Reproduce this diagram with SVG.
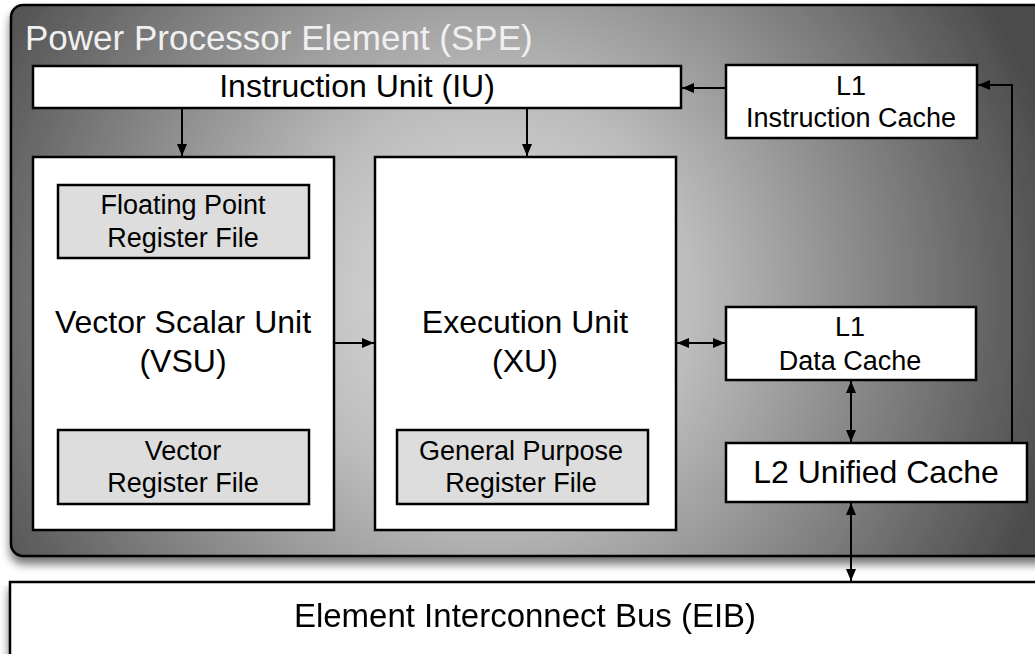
<svg xmlns="http://www.w3.org/2000/svg" width="1035" height="654" viewBox="0 0 1035 654">
  <defs>
    <radialGradient id="ppeFill" gradientUnits="userSpaceOnUse" cx="490" cy="300" r="580">
      <stop offset="0" stop-color="#e2e2e2"/>
      <stop offset="0.35" stop-color="#bcbcbc"/>
      <stop offset="1" stop-color="#4c4c4c"/>
    </radialGradient>
    <filter id="shadow" x="-5%" y="-5%" width="110%" height="115%">
      <feGaussianBlur in="SourceAlpha" stdDeviation="5"/>
      <feOffset dx="0" dy="7" result="blur"/>
      <feComponentTransfer><feFuncA type="linear" slope="0.55"/></feComponentTransfer>
      <feMerge><feMergeNode/><feMergeNode in="SourceGraphic"/></feMerge>
    </filter>
    <marker id="arrow" viewBox="0 0 12 10" refX="12" refY="5" markerWidth="12" markerHeight="10" markerUnits="userSpaceOnUse" orient="auto-start-reverse">
      <path d="M0,0 L12,5 L0,10 Z" fill="#000"/>
    </marker>
    <style>
      .box { fill: #fff; stroke: #000; stroke-width: 2.5; }
      .reg { fill: #dcdddc; stroke: #000; stroke-width: 2.5; }
      .t { font-family: "Liberation Sans", Arial, Helvetica, sans-serif; fill: #000; text-anchor: middle; }
      .big { font-size: 32px; }
      .small { font-size: 27px; }
      .conn { stroke: #000; stroke-width: 2; fill: none; }
    </style>
  </defs>

  <rect width="1035" height="654" fill="#fff"/>

  <!-- Element Interconnect Bus -->
  <g id="eib" filter="url(#shadow)">
    <rect class="box" x="10" y="582" width="1040" height="80"/>
    <text class="t" x="525" y="627" font-size="33">Element Interconnect Bus (EIB)</text>
  </g>

  <!-- Power Processor Element container -->
  <g id="ppe" filter="url(#shadow)">
    <rect x="11" y="5" width="1040" height="551" rx="12" ry="12" fill="url(#ppeFill)" stroke="#000" stroke-width="2.5"/>
  </g>
  <text x="25" y="50" font-family="Liberation Sans, Arial, Helvetica, sans-serif" font-size="35" fill="#f0f0f0">Power Processor Element (SPE)</text>

  <g id="iu">
    <rect class="box" x="33" y="66" width="648" height="42"/>
    <text class="t big" x="357" y="97">Instruction Unit (IU)</text>
  </g>

  <g id="l1-icache">
    <rect class="box" x="726" y="65" width="251" height="73"/>
    <text class="t small" x="851" y="95">L1</text>
    <text class="t small" x="851" y="127">Instruction Cache</text>
  </g>

  <g id="vsu">
    <rect class="box" x="33" y="157" width="301" height="373"/>
    <text class="t big" x="183" y="333">Vector Scalar Unit</text>
    <text class="t big" x="183" y="372">(VSU)</text>
  </g>

  <g id="fp-regfile">
    <rect class="reg" x="58" y="185" width="251" height="73"/>
    <text class="t small" x="183" y="214">Floating Point</text>
    <text class="t small" x="183" y="247">Register File</text>
  </g>

  <g id="vec-regfile">
    <rect class="reg" x="58" y="430" width="251" height="74"/>
    <text class="t small" x="183" y="460">Vector</text>
    <text class="t small" x="183" y="492">Register File</text>
  </g>

  <g id="xu">
    <rect class="box" x="375" y="157" width="301" height="373"/>
    <text class="t big" x="525" y="333">Execution Unit</text>
    <text class="t big" x="525" y="372">(XU)</text>
  </g>

  <g id="gp-regfile">
    <rect class="reg" x="397" y="430" width="251" height="74"/>
    <text class="t small" x="521" y="460">General Purpose</text>
    <text class="t small" x="521" y="492">Register File</text>
  </g>

  <g id="l1-dcache">
    <rect class="box" x="726" y="307" width="250" height="73"/>
    <text class="t small" x="850" y="336">L1</text>
    <text class="t small" x="850" y="370">Data Cache</text>
  </g>

  <g id="l2-cache">
    <rect class="box" x="726" y="443" width="301" height="59"/>
    <text class="t big" x="876" y="483">L2 Unified Cache</text>
  </g>

  <g id="connectors">
    <!-- IU to VSU and XU -->
    <line class="conn" x1="182" y1="108" x2="182" y2="156" marker-end="url(#arrow)"/>
    <line class="conn" x1="527" y1="108" x2="527" y2="156" marker-end="url(#arrow)"/>
    <!-- L1 instruction cache to IU -->
    <line class="conn" x1="726" y1="88" x2="682" y2="88" marker-end="url(#arrow)"/>
    <!-- L2 back up to L1 instruction cache -->
    <polyline class="conn" points="1012,443 1012,85 978,85" marker-end="url(#arrow)"/>
    <!-- VSU to XU -->
    <line class="conn" x1="334" y1="343" x2="374" y2="343" marker-end="url(#arrow)"/>
    <!-- XU to L1 data cache -->
    <line class="conn" x1="677" y1="343" x2="725" y2="343" marker-start="url(#arrow)" marker-end="url(#arrow)"/>
    <!-- L1 data cache to L2 -->
    <line class="conn" x1="851" y1="381" x2="851" y2="442" marker-start="url(#arrow)" marker-end="url(#arrow)"/>
    <!-- L2 to EIB -->
    <line class="conn" x1="851" y1="503" x2="851" y2="581" marker-start="url(#arrow)" marker-end="url(#arrow)"/>
  </g>
</svg>
